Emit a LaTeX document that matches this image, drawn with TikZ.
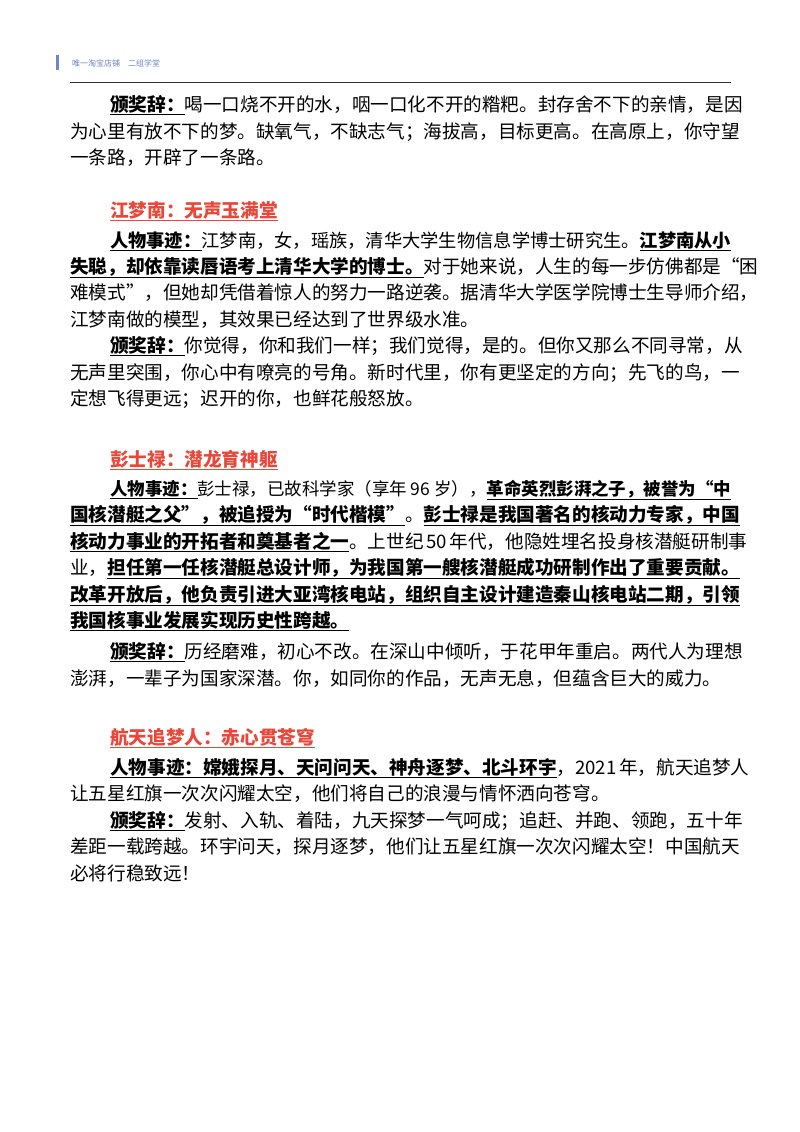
\documentclass[tikz,border=0pt]{standalone}
\usepackage{graphicx}
\usepackage{fontspec}
\setmainfont{Noto Sans CJK SC}
\XeTeXlinebreaklocale "zh"
\XeTeXlinebreakskip=0pt plus 4pt minus 1pt
\definecolor{ttl}{HTML}{E8473A}
\definecolor{hdr}{HTML}{6F86C6}
\newcommand{\ul}[1]{\underline{\textbf{#1}}}
\newcommand{\fl}[1]{\hbox to 661pt{#1}}
\newcommand{\il}[1]{\hbox to 621pt{#1}}
\newcommand{\sqz}[1]{\resizebox{621pt}{!}{#1}}
\begin{document}
\begin{tikzpicture}[x=1pt,y=-1pt,
  ln/.style={anchor=base west,inner sep=0pt,font=\fontsize{18.6}{22}\selectfont},
  tt/.style={ln,text=ttl,font=\fontsize{18.6}{22}\selectfont\bfseries}]
\useasboundingbox (0,0) rectangle (800,1132);
\fill[white] (0,0) rectangle (800,1132);
\fill[hdr] (56,55) rectangle (58.5,70);
\node[anchor=west,inner sep=0pt,text=hdr,font=\fontsize{8}{9}\selectfont] (h) at (72,63) {唯一淘宝店铺\quad 二组学堂};
\draw[line width=0.8pt,black!80] (70,82) -- (731,82);
% block 1
\node[ln] (a1) at (110,111) {\il{\ul{颁奖辞：}喝一口烧不开的水，咽一口化不开的糌粑。封存舍不下的亲情，是因}};
\node[ln] (a2) at (70,138) {\fl{为心里有放不下的梦。缺氧气，不缺志气；海拔高，目标更高。在高原上，你守望}};
\node[ln] (a3) at (70,164) {一条路，开辟了一条路。};
% block 2
\node[tt] (t2) at (110,217) {\underline{江梦南：无声玉满堂}};
\node[ln] (b1) at (110,247) {\sqz{\ul{人物事迹：}江梦南，女，瑶族，清华大学生物信息学博士研究生。\ul{江梦南从小}}};
\node[ln] (b2) at (70,273) {\fl{\ul{失聪，却依靠读唇语考上清华大学的博士。}对于她来说，人生的每一步仿佛都是“困}};
\node[ln] (b3) at (70,299) {\fl{难模式”，但她却凭借着惊人的努力一路逆袭。据清华大学医学院博士生导师介绍，}};
\node[ln] (b4) at (70,326) {江梦南做的模型，其效果已经达到了世界级水准。};
\node[ln] (b5) at (110,352) {\il{\ul{颁奖辞：}你觉得，你和我们一样；我们觉得，是的。但你又那么不同寻常，从}};
\node[ln] (b6) at (70,379) {\fl{无声里突围，你心中有嘹亮的号角。新时代里，你有更坚定的方向；先飞的鸟，一}};
\node[ln] (b7) at (70,405) {定想飞得更远；迟开的你，也鲜花般怒放。};
% block 3
\node[tt] (t3) at (110,466) {\underline{彭士禄：潜龙育神躯}};
\node[ln] (c1) at (110,495) {\sqz{\ul{人物事迹：}彭士禄，已故科学家（享年 96 岁），\ul{革命英烈彭湃之子，被誉为“中}}};
\node[ln] (c2) at (70,521) {\fl{\ul{国核潜艇之父”，被追授为“时代楷模”}。\ul{彭士禄是我国著名的核动力专家，中国}}};
\node[ln] (c3) at (70,548) {\fl{\ul{核动力事业的开拓者和奠基者之一}。上世纪 50 年代，他隐姓埋名投身核潜艇研制事}};
\node[ln] (c4) at (70,574) {\fl{业，\ul{担任第一任核潜艇总设计师，为我国第一艘核潜艇成功研制作出了重要贡献。}}};
\node[ln] (c5) at (70,601) {\fl{\ul{改革开放后，他负责引进大亚湾核电站，组织自主设计建造秦山核电站二期，引领}}};
\node[ln] (c6) at (70,627) {\ul{我国核事业发展实现历史性跨越。}};
\node[ln] (c7) at (110,658) {\il{\ul{颁奖辞：}历经磨难，初心不改。在深山中倾听，于花甲年重启。两代人为理想}};
\node[ln] (c8) at (70,685) {\fl{澎湃，一辈子为国家深潜。你，如同你的作品，无声无息，但蕴含巨大的威力。}};
% block 4
\node[tt] (t4) at (110,744) {\underline{航天追梦人：赤心贯苍穹}};
\node[ln] (d1) at (110,774) {\il{\ul{人物事迹：嫦娥探月、天问问天、神舟逐梦、北斗环宇}，2021 年，航天追梦人}};
\node[ln] (d2) at (70,800) {让五星红旗一次次闪耀太空，他们将自己的浪漫与情怀洒向苍穹。};
\node[ln] (d3) at (110,827) {\il{\ul{颁奖辞：}发射、入轨、着陆，九天探梦一气呵成；追赶、并跑、领跑，五十年}};
\node[ln] (d4) at (70,853) {\fl{差距一载跨越。环宇问天，探月逐梦，他们让五星红旗一次次闪耀太空！中国航天}};
\node[ln] (d5) at (70,880) {必将行稳致远！};
\end{tikzpicture}
\end{document}
